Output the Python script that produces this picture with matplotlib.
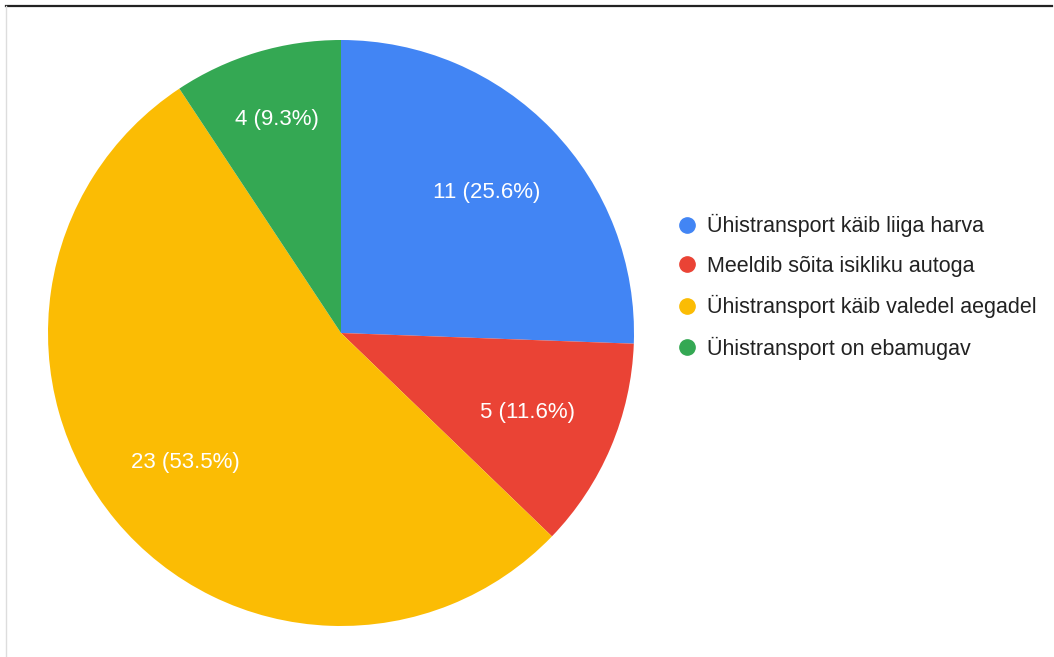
import numpy as np
import matplotlib.pyplot as plt
from matplotlib.lines import Line2D

plt.rcParams['font.family'] = ['Liberation Sans', 'DejaVu Sans']

labels = ['Ühistransport käib liiga harva', 'Meeldib sõita isikliku autoga',
          'Ühistransport käib valedel aegadel', 'Ühistransport on ebamugav']
counts = [11, 5, 23, 4]
colors = ['#4285f4', '#ea4335', '#fbbc04', '#34a853']

W, H = 1054, 657
fig = plt.figure(figsize=(W / 100, H / 100), dpi=100)

# pie centre and radius in pixels
cx, cy, r = 341, 333, 293
ax = fig.add_axes([(cx - r) / W, (H - cy - r) / H, 2 * r / W, 2 * r / H])

total = sum(counts)

def fmt(pct):
    n = int(round(pct * total / 100))
    return f'{n} ({pct:.1f}%)'

wedges, texts, autotexts = ax.pie(counts, colors=colors, startangle=90, counterclock=False,
                                  autopct=fmt, pctdistance=0.69,
                                  wedgeprops=dict(linewidth=0),
                                  textprops=dict(color='white', fontsize=16))

# the narrow green slice gets its label pushed further out
w = wedges[3]
mid = np.deg2rad((w.theta1 + w.theta2) / 2)
autotexts[3].set_position((0.76 * np.cos(mid), 0.76 * np.sin(mid)))

ax.set_xlim(-1, 1)
ax.set_ylim(-1, 1)
ax.set_aspect('equal')

handles = [Line2D([], [], marker='o', linestyle='', markersize=11,
                  markerfacecolor=c, markeredgecolor=c) for c in colors]
leg = fig.legend(handles, labels, loc='upper left', bbox_to_anchor=(676 / W, 1 - 214 / H),
                 frameon=False, fontsize=15.5, handlelength=1.0, handletextpad=0.43,
                 labelspacing=0.86, borderpad=0, borderaxespad=0)
for t in leg.get_texts():
    t.set_color('#222222')

# frame lines along the top and left edges
fig.add_artist(Line2D([6 / W, 1052 / W], [1 - 6 / H, 1 - 6 / H], color='#222222', linewidth=1.6))
fig.add_artist(Line2D([6 / W, 6 / W], [0, 1 - 6 / H], color='#dddddd', linewidth=1))

fig.savefig('out.png', dpi=100)
